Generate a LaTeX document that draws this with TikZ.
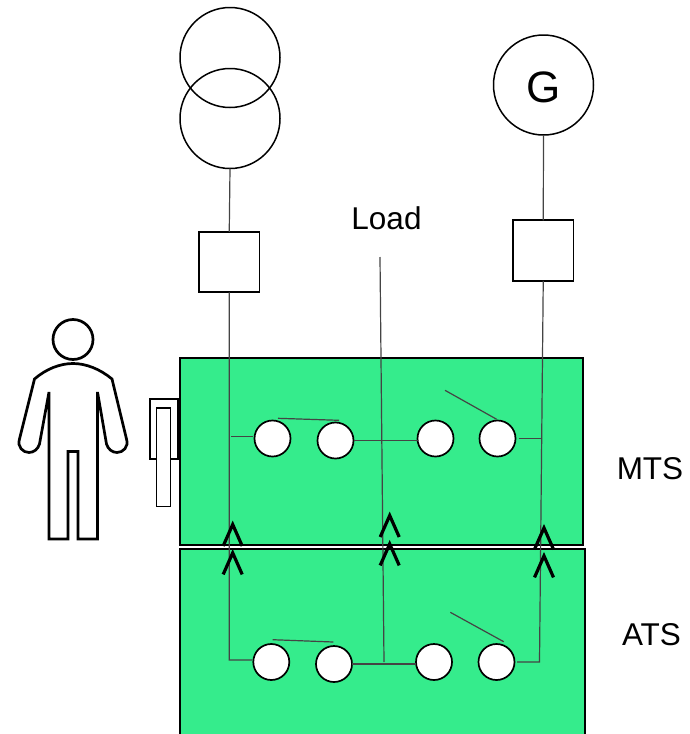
\documentclass[tikz,border=0pt]{standalone}
\usepackage{fontspec}
\setmainfont{Liberation Sans}
\definecolor{panelgreen}{HTML}{35EC8C}
\definecolor{wiregray}{HTML}{444444}
\tikzset{
  panel/.style={draw=black,line width=2pt,fill=panelgreen,inner sep=0pt,outer sep=0pt},
  round/.style={circle,draw=black,line width=1.7pt,fill=white,minimum size=36pt,inner sep=0pt,outer sep=0pt},
  bigcircle/.style={circle,draw=black,line width=1.5pt,minimum size=100pt,inner sep=0pt,outer sep=0pt},
  breaker/.style={rectangle,draw=black,line width=1.7pt,fill=white,minimum size=60.5pt,inner sep=0pt,outer sep=0pt},
  wire/.style={draw=wiregray,line width=1.2pt},
  chevron/.style={draw=black,line width=3.2pt,miter limit=10},
  body/.style={draw=black,line width=2.7pt,fill=white,line join=miter},
  label/.style={inner sep=0pt,outer sep=0pt,font=\fontsize{31.5}{36}\selectfont}
}
\begin{document}
\begin{tikzpicture}[x=1pt,y=-1pt]
\useasboundingbox (0,0) rectangle (689,734);
% panels
\path[panel] (180,358) rectangle (583,545);
\path[panel] (180,549) rectangle (585,736);
% handle
\draw[draw=black,line width=2pt,fill=white] (149.5,399) rectangle (177.5,459);
\draw[draw=black,line width=1.7pt,fill=white] (156.5,408) rectangle (170.5,506.5);
% person
\node[circle,draw=black,line width=2.7pt,minimum size=40pt,inner sep=0pt,outer sep=0pt] (head) at (73,339.5) {};
\draw[body] (34.5,379)
  .. controls (46,369) and (60,363.5) .. (73,363.5)
  .. controls (86,363.5) and (100,369) .. (112,379)
  -- (126.5,439)
  .. controls (129,447) and (123,452.5) .. (117,452.5)
  .. controls (112,452.5) and (108,449) .. (106.5,444)
  -- (97.5,392) -- (97.5,539) -- (78,539) -- (78,451.5) -- (68,451.5) -- (68,539) -- (49,539) -- (49,392)
  -- (39.5,444)
  .. controls (38,449) and (34,452.5) .. (29,452.5)
  .. controls (23,452.5) and (17,447) .. (19.5,439)
  -- cycle;
% sources
\node[bigcircle] (t1) at (230,57.5) {};
\node[bigcircle] (t2) at (230,118.5) {};
\node[bigcircle,font=\fontsize{44}{50}\selectfont] (gen) at (543.5,85) {};
\node[inner sep=0pt,outer sep=0pt,font=\fontsize{44}{50}\selectfont] (gtext) at (544,87.5) {G};
\node[breaker] (q1) at (229.25,262) {};
\node[breaker] (q2) at (543.25,250.5) {};
\node[label] (load) at (386.5,218) {Load};
\node[label] (mts) at (650,469) {MTS};
\node[label] (ats) at (651.5,634.5) {ATS};
% coordinates
\coordinate (leftbus) at (229.3,660);
\coordinate (midtop) at (380,257);
\coordinate (midbus) at (384,662);
\coordinate (rightbus) at (539.5,662);
\coordinate (m1w) at (231,436.5);
\coordinate (m1e) at (253,436.5);
\coordinate (m4w) at (518.5,438.5);
\coordinate (m4e) at (541,438.5);
\coordinate (a1e) at (252,660);
\coordinate (a4w) at (517,662);
% switches MTS
\node[round] (ma) at (272.5,438.5) {};
\node[round] (mb) at (335.5,440.5) {};
\node[round] (mc) at (435.5,438.5) {};
\node[round] (md) at (497.5,438.5) {};
% switches ATS
\node[round] (aa) at (271.3,662) {};
\node[round] (ab) at (334,664) {};
\node[round] (ac) at (434,662) {};
\node[round] (ad) at (496.5,662) {};
% wires
\draw[wire] (t2.south) -- (q1.north);
\draw[wire] (q1.south) -- (leftbus) -- (a1e);
\draw[wire] (midtop) -- (midbus);
\draw[wire] (gen.south) -- (q2.north);
\draw[wire] (q2.south) -- (rightbus) -- (a4w);
\draw[wire] (m1w) -- (m1e);
\draw[wire] (m4w) -- (m4e);
\draw[wire] (mb.east) -- (mb.east -| mc.west);
\draw[wire] (ab.east) -- (ab.east -| ac.west);
% blades
\coordinate (mbar1) at (278,418.3);
\coordinate (mbar2) at (339,420.3);
\coordinate (mblade1) at (445,390.3);
\coordinate (mblade2) at (496.7,419.3);
\coordinate (abar1) at (272.7,639.7);
\coordinate (abar2) at (333.3,642);
\coordinate (ablade1) at (450.3,612.3);
\coordinate (ablade2) at (503.7,641.7);
\draw[wire] (mbar1) -- (mbar2);
\draw[wire] (mblade1) -- (mblade2);
\draw[wire] (abar1) -- (abar2);
\draw[wire] (ablade1) -- (ablade2);
% contacts
\foreach \x/\y in {232.7/524.5, 232.7/552.9, 389.7/515.5, 389.7/543.9, 544/527.9, 544/555.9}{
  \draw[chevron] (\x-9.5,\y+21.5) -- (\x,\y) -- (\x+9.5,\y+21.5);
}
\end{tikzpicture}
\end{document}
